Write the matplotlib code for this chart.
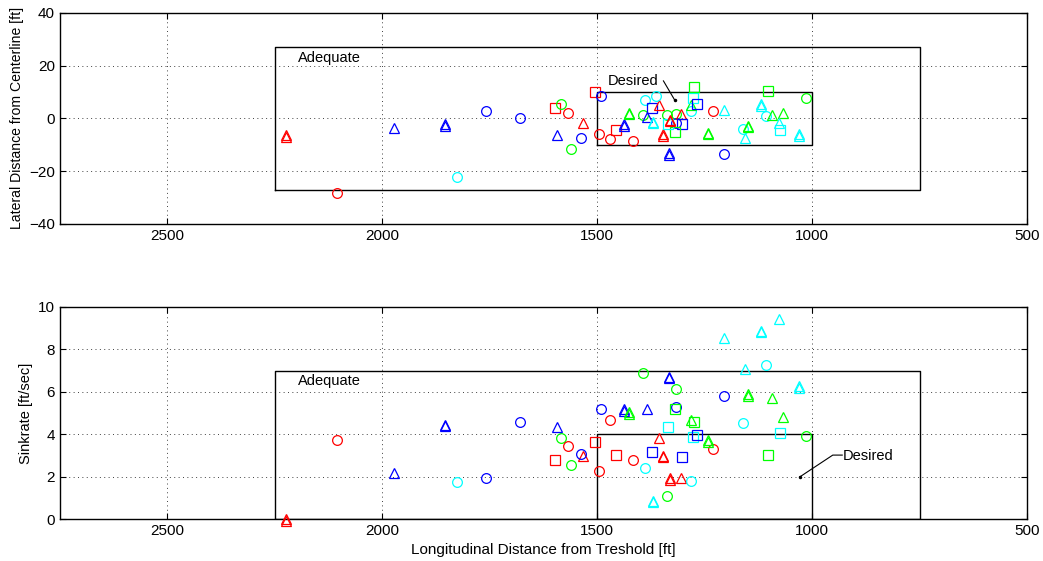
import numpy as np
import matplotlib.pyplot as plt
from matplotlib import transforms

plt.rcParams["font.family"] = ["Liberation Sans", "DejaVu Sans"]

# ----------------------------
# Data
# ----------------------------
# longitudinal distance from threshold [ft]
dist = [2224, 1973, 1855, 1759, 1680, 1827, 2106, 1506, 1492, 1599,
        1585, 1569, 1534, 1593, 1537, 1562, 1496, 1470, 1456, 1438,
        1417, 1427, 1390, 1393, 1385, 1370, 1372, 1357, 1363, 1337,
        1317, 1316, 1305, 1302, 1319, 1346, 1333, 1336, 1330, 1283,
        1282, 1278, 1276, 1268, 1230, 1242, 1206, 1206, 1161, 1157,
        1149, 1120, 1102, 1108, 1094, 1068, 1076, 1074, 1031, 1014]

# lateral distance from centerline [ft]
lateral = [-6.5, -3.5, -2.2, 2.8, 0.3, -22.4, -28.4, 9.9, 8.5, 3.9,
           5.6, 2.0, -1.8, -6.5, -7.5, -11.7, -6.0, -7.9, -4.4, -2.2,
           -8.5, 2.2, 7.0, 1.2, 0.5, -1.3, 4.1, 4.9, 8.3, 1.3,
           1.7, -1.6, 1.6, -2.1, -5.1, -6.0, -13.2, -2.2, -0.5, 2.9,
           5.1, 7.6, 11.8, 5.5, 2.6, -5.4, 3.2, -13.4, -4.1, -7.5,
           -2.8, 5.4, 10.4, 0.7, 1.3, 2.2, -1.8, -4.4, -6.0, 7.6]

# sinkrate [ft/sec]
sinkrate = [0.0, 2.17, 4.45, 1.97, 4.6, 1.78, 3.74, 3.66, 5.19, 2.8,
            3.82, 3.47, 2.98, 4.34, 3.1, 2.56, 2.28, 4.68, 3.02, 5.19,
            2.8, 5.04, 2.41, 6.88, 5.19, 0.89, 3.19, 3.85, np.nan, 1.1,
            6.13, 5.31, 1.97, 2.93, 5.19, 3.0, 6.72, 4.34, 1.94, 1.81,
            4.68, 3.87, 4.57, 3.98, 3.32, 3.74, 8.56, 5.81, 4.56, 7.1,
            5.89, 8.87, 3.02, 7.27, 5.7, 4.81, 9.43, 4.05, 6.28, 3.93]

# color code and marker code per run (d = double triangle)
color_code = ["r", "b", "b", "b", "b", "c", "r", "r", "b", "r",
              "g", "r", "r", "b", "b", "g", "r", "r", "r", "b",
              "r", "g", "c", "g", "b", "c", "b", "r", "c", "g",
              "g", "b", "r", "b", "g", "r", "b", "c", "r", "c",
              "g", "c", "g", "b", "r", "g", "c", "b", "c", "c",
              "g", "c", "g", "c", "g", "g", "c", "c", "c", "g"]
marker_code = ["d", "^", "d", "o", "o", "o", "o", "s", "o", "s",
               "o", "o", "^", "^", "o", "o", "o", "o", "s", "d",
               "o", "d", "o", "o", "^", "d", "s", "^", "o", "o",
               "o", "o", "^", "s", "s", "d", "d", "s", "d", "o",
               "^", "s", "s", "s", "o", "d", "^", "o", "o", "^",
               "d", "d", "s", "o", "^", "^", "^", "s", "d", "o"]

# criteria boxes: (x_far, x_near, y_low, y_high)
lat_adequate = (2250, 750, -27, 27)
lat_desired = (1500, 1000, -10, 10)
sink_adequate = (2250, 750, 0, 7)
sink_desired = (1500, 1000, 0, 4)

colors = {"r": (1, 0, 0), "g": (0, 1, 0), "b": (0, 0, 1), "c": (0, 1, 1)}


def draw_box(ax, box):
    x0, x1, y0, y1 = box
    ax.plot([x0, x1, x1, x0, x0], [y0, y0, y1, y1, y0], color="k", lw=1.0, zorder=2)


def draw_points(ax, fig, yvals):
    for x, y, c, m in zip(dist, yvals, color_code, marker_code):
        if np.isnan(y):
            continue
        col = colors[c]
        if m == "d":
            ax.plot(x, y, "^", mfc="none", mec=col, ms=7, mew=0.9, zorder=3, clip_on=False)
            shift = transforms.offset_copy(ax.transData, fig=fig, x=0, y=-1.5, units="dots")
            ax.plot(x, y, "^", mfc="none", mec=col, ms=7, mew=0.9, zorder=3,
                    transform=shift, clip_on=False)
        else:
            ms = 6.5 if m == "s" else 7
            ax.plot(x, y, m, mfc="none", mec=col, ms=ms, mew=0.9, zorder=3, clip_on=False)


def style_axes(ax):
    ax.set_xlim(2750, 500)
    ax.set_xticks([2500, 2000, 1500, 1000, 500])
    ax.grid(True, linestyle=(0, (1, 3.5)), color="0.25", lw=0.7)
    ax.tick_params(direction="in", top=True, right=True, labelsize=11, length=4)
    for s in ax.spines.values():
        s.set_linewidth(1.0)


fig = plt.figure(figsize=(10.43, 5.61), dpi=100)

# ----------------------------
# Lateral distance
# ----------------------------
ax1 = fig.add_axes([0.0575, 0.601, 0.9272, 0.3761])
draw_box(ax1, lat_adequate)
draw_box(ax1, lat_desired)
draw_points(ax1, fig, lateral)
style_axes(ax1)
ax1.set_ylim(-40, 40)
ax1.set_yticks([-40, -20, 0, 20, 40])
ax1.set_yticklabels(["\u221240", "\u221220", "0", "20", "40"])
ax1.set_ylabel("Lateral Distance from Centerline [ft]", fontsize=10.1)
ax1.text(2197, 23, "Adequate", fontsize=10.5, va="center", ha="left")
ax1.text(1475, 14.2, "Desired", fontsize=10.5, va="center", ha="left")
ax1.plot([1346, 1320], [14.2, 7.0], color="k", lw=0.8)
ax1.plot(1320, 7.0, "k.", ms=3)

# ----------------------------
# Sinkrate
# ----------------------------
ax2 = fig.add_axes([0.0575, 0.074, 0.9272, 0.3788])
draw_box(ax2, sink_adequate)
draw_box(ax2, sink_desired)
draw_points(ax2, fig, sinkrate)
style_axes(ax2)
ax2.set_ylim(0, 10)
ax2.set_yticks([0, 2, 4, 6, 8, 10])
ax2.set_ylabel("Sinkrate [ft/sec]", fontsize=10.5)
ax2.set_xlabel("Longitudinal Distance from Treshold [ft]", fontsize=11, labelpad=3)
ax2.text(2197, 6.5, "Adequate", fontsize=10.5, va="center", ha="left")
ax2.text(928, 3.0, "Desired", fontsize=10.5, va="center", ha="left")
ax2.plot([1029, 952, 930], [2.0, 3.03, 3.03], color="k", lw=0.8)
ax2.plot(1029, 2.0, "k.", ms=3)

fig.savefig("out.png", dpi=100)
